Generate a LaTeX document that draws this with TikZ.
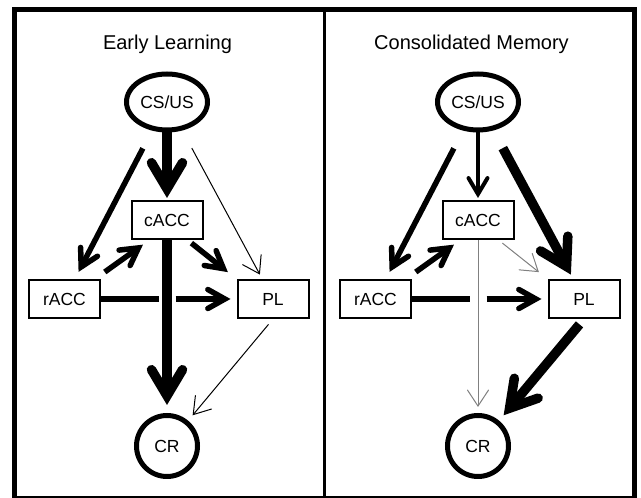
\documentclass[tikz,border=0pt]{standalone}
\usepackage{fontspec}
\setmainfont{Liberation Sans}
\usepackage{tikz}
\usetikzlibrary{arrows.meta, shapes.geometric, calc}

\newcommand{\labelfont}{\fontsize{17.5}{20}\selectfont}
\tikzset{
    source/.style = {ellipse, draw, line width=5pt, minimum width=81pt, minimum height=56pt, inner sep=0pt, font=\labelfont},
    region/.style = {rectangle, draw, line width=2pt, minimum width=71pt, minimum height=38pt, inner sep=0pt, font=\labelfont},
    response/.style = {circle, draw, line width=5pt, minimum size=61pt, inner sep=0pt, font=\labelfont},
    paneltitle/.style = {anchor=base, font=\fontsize{20}{24}\selectfont},
    weak/.style = {line width=1pt, -{Straight Barb[length=16pt, width=21pt, line cap=round, line join=miter]}},
    medium/.style = {line width=4pt, -{Straight Barb[length=16pt, width=19pt, line cap=round, line join=miter]}},
    strong/.style = {line width=5.5pt, -{Straight Barb[length=17pt, width=19pt, line cap=round, line join=miter]}},
    strongest/.style = {line width=9.5pt, -{Straight Barb[length=26pt, width=31pt, line cap=round, line join=miter]}}
}

\begin{document}
\begin{tikzpicture}[x=1pt, y=1pt]
    \useasboundingbox (0,0) rectangle (641,498);

    % outer frame and divider
    \draw[line width=5pt] (14.5,-1) rectangle (634.5,488.5);
    \draw[line width=3pt] (324.5,-1) -- (324.5,488.5);

    % both panels share the same layout
    \foreach \p/\x/\tx/\title in {L/0/167.5/Early Learning, R/311/160.5/Consolidated Memory} {
        \begin{scope}[xshift=\x pt]
            \node[paneltitle] at (\tx,448) {\title};
            \node[source] (cs\p) at (167,396) {CS/US};
            \node[region] (cacc\p) at (167,278) {cACC};
            \node[region] (racc\p) at (64.5,199) {rACC};
            \node[region] (pl\p) at (273,199) {PL};
            \node[response] (cr\p) at (167,52) {CR};
            \coordinate (gap\p) at (racc\p.east -| cacc\p.south);
        \end{scope}
        \draw[strong, shorten <=20pt, shorten >=8pt] (cs\p) -- (racc\p);
        \draw[strong, shorten <=12pt, shorten >=8pt] ([xshift=-6pt]racc\p.north east) -- ([xshift=19pt]cacc\p.south west);
        % rACC -> PL is broken where it crosses the cACC -> CR line
        \draw[strong, -] (racc\p) -- ([xshift=-8.5pt]gap\p);
        \draw[strong, shorten >=6pt] ([xshift=8.5pt]gap\p) -- (pl\p);
    }

    % early learning
    \draw[strongest, shorten >=2pt] (csL) -- (caccL);
    \draw[weak, shorten <=20pt, shorten >=5pt] (csL) -- (plL);
    \draw[strong, shorten <=5pt, shorten >=11pt] ([xshift=-16pt]caccL.south east) -- (plL.north west);
    \draw[strongest, shorten >=8pt] (caccL) -- (crL);
    \draw[weak, shorten <=7pt, shorten >=7pt] (plL.south) -- (crL);

    % consolidated memory
    \draw[medium, shorten >=2pt] (csR) -- (caccR);
    \draw[strongest, shorten <=20pt, shorten >=5pt] (csR) -- (plR);
    \draw[weak, gray, shorten <=5pt, shorten >=11pt] ([xshift=-16pt]caccR.south east) -- (plR.north west);
    \draw[weak, gray, shorten >=6pt] (caccR) -- (crR);
    \draw[strongest, shorten <=7pt, shorten >=7pt] (plR.south) -- (crR);
\end{tikzpicture}
\end{document}
